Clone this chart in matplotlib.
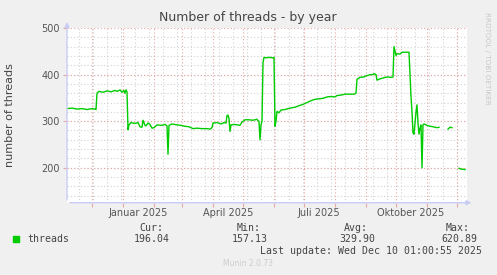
import datetime as dt
import numpy as np
import matplotlib; matplotlib.use("Agg")
import matplotlib.pyplot as plt
from matplotlib.patches import Rectangle

# ---- data: days since 2024-11-06 (left edge of the 400-day window) ----
start = dt.datetime(2024, 11, 6)
days = [0, 5, 10, 15, 20, 25, 28, 29,
        30, 32, 36, 40, 44, 48, 50, 53, 55, 57, 58, 59, 60,
        61, 62, 64, 68, 71, 73, 75, 76, 78, 79, 81, 83, 85, 87, 90, 95, 98, 100, 101, 102,
        105, 110, 114, 118, 122, 124, 126, 130, 135, 140, 143, 145, 146, 150, 154, 157, 159,
        160, 161, 162, 163, 164, 168, 173, 175, 178, 182, 186, 190, 191, 192, 193, 194, 195,
        196, 197, 199, 202, 206, 207, 208, 209, 210, 212, 214, 218, 223, 228, 233, 236, 240,
        244, 248, 252, 256, 260, 264, 268, 270, 274, 278, 282, 287, 289,
        290, 293, 297, 300, 304, 306, 307, 309, 310, 312, 315, 318, 321, 324, 326,
        327, 329, 330, 333, 335, 341,
        342, 343, 344, 345, 346, 347, 349, 350, 351, 352, 353, 354, 355, 356, 357, 361, 366, 370, 372,
        373, 381, 383, 385, 386, 392, 394, 396, 398]
threads = [327, 328, 326, 327, 325, 327, 326, 325,
           360, 364, 362, 365, 363, 366, 364, 367, 362, 366, 360, 367, 363,
           282, 292, 297, 295, 297, 288, 287, 302, 291, 290, 296, 293, 285, 286, 292, 291, 293, 290, 229, 291,
           294, 292, 291, 289, 288, 286, 284, 285, 284, 284, 283, 286, 296, 297, 294, 297, 296,
           312, 313, 306, 278, 292, 293, 291, 298, 303, 303, 302, 304, 301, 300, 260, 292, 300,
           425, 437, 436, 437, 436, 437, 289, 300, 321, 318, 324, 325, 328, 330, 334, 336, 340,
           344, 347, 348, 349, 352, 353, 352, 355, 356, 358, 358, 358, 360,
           390, 394, 395, 398, 400, 400, 402, 400, 388, 390, 392, 394, 395, 394, 395,
           460, 441, 445, 444, 448, 448,
           448, 400, 353, 320, 275, 272, 320, 335, 296, 272, 285, 292, 200, 292, 294, 290, 288, 286, 287,
           np.nan, 283, 287, 286, np.nan, 199, 197, 197, 196]
stat_names = ["Cur:", "Min:", "Avg:", "Max:"]
stat_values = ["196.04", "157.13", "329.90", "620.89"]
year_labels = ["Januar 2025", "April 2025", "Juli 2025", "Oktober 2025"]
year_label_dates = [dt.datetime(2025, m, 16) for m in (1, 4, 7, 10)]

W, H = 497, 275
fig = plt.figure(figsize=(W / 100, H / 100), dpi=100, facecolor="#f0f0f0")
def fx(px): return px / W
def fy(py): return 1 - py / H

ax = fig.add_axes([fx(67), fy(202.7), fx(467) - fx(67), fy(28) - fy(202.7)], facecolor="white")
x = [start + dt.timedelta(days=d) for d in days]
end = start + dt.timedelta(days=400)
ax.set_xlim(start, end); ax.set_ylim(125, 500)

# grid: minor gray (2 weeks / 20), major red (months / 100)
gray, red = "#d2d2d2", "#e8a6a6"
d = dt.datetime(2024, 11, 18)
while d < end:
    ax.axvline(d, color=gray, lw=0.8, ls=(0, (1, 2)), zorder=1); d += dt.timedelta(days=14)
for v in range(140, 500, 20):
    ax.axhline(v, color=gray, lw=0.8, ls=(0, (1, 2)), zorder=1)
months = [dt.datetime(2024 + (m > 12), (m - 1) % 12 + 1, 1) for m in range(12, 25)]
for m in months:
    ax.axvline(m, color=red, lw=0.8, ls=(0, (1, 2)), zorder=1)
for v in (200, 300, 400, 500):
    ax.axhline(v, color=red, lw=0.8, ls=(0, (1, 2)), zorder=1)

ax.plot(x, threads, color="#00cc00", lw=1.0, zorder=3)

for s in ax.spines.values(): s.set_visible(False)
ax.set_xticks(months); ax.set_xticklabels([])
ax.tick_params(axis="x", length=3, color=red, width=0.8)
ax.set_yticks([200, 300, 400, 500])
ax.set_yticklabels(["200", "300", "400", "500"], fontsize=7, color="#555555")
ax.tick_params(axis="y", length=3, color=red, width=0.8, pad=2)
for lab, dd in zip(year_labels, year_label_dates):
    ax.text(dd, -0.03, lab, transform=ax.get_xaxis_transform(), ha="center", va="top",
            fontsize=7, color="#555555")

# axis lines with arrows
ax.annotate("", xy=(1.018, 0), xytext=(0, 0), xycoords="axes fraction",
            arrowprops=dict(arrowstyle="-|>", color="#c8ccf4", lw=1, mutation_scale=7), annotation_clip=False)
ax.annotate("", xy=(0, 1.05), xytext=(0, 0), xycoords="axes fraction",
            arrowprops=dict(arrowstyle="-|>", color="#c8ccf4", lw=1, mutation_scale=7), annotation_clip=False)

fig.text(fx(248), fy(18), "Number of threads - by year", ha="center", va="center", fontsize=9, color="#444444")
fig.text(fx(10), fy(115), "number of threads", rotation=90, ha="center", va="center", fontsize=8, color="#444444")
fig.text(fx(487), fy(58), "RRDTOOL / TOBI OETIKER", rotation=270, ha="center", va="center", fontsize=5.2, color="#c8c8c8")

mono = dict(family="DejaVu Sans Mono", fontsize=7.1, color="#444444")
fig.patches.append(Rectangle((fx(13), fy(242)), fx(6), 6 / H, transform=fig.transFigure, color="#00cc00"))
fig.text(fx(27), fy(239), "threads", ha="left", va="center", **mono)
for name, val, xr in zip(stat_names, stat_values, [170, 268, 375, 477]):
    fig.text(fx(xr - 7), fy(228), name, ha="right", va="center", **mono)
    fig.text(fx(xr), fy(239), val, ha="right", va="center", **mono)
fig.text(fx(482), fy(251), "Last update: Wed Dec 10 01:00:55 2025", ha="right", va="center", **mono)
fig.text(fx(248), fy(264), "Munin 2.0.73", ha="center", va="center", fontsize=5.5, color="#cccccc")

fig.savefig("out.png", dpi=100, facecolor=fig.get_facecolor())
